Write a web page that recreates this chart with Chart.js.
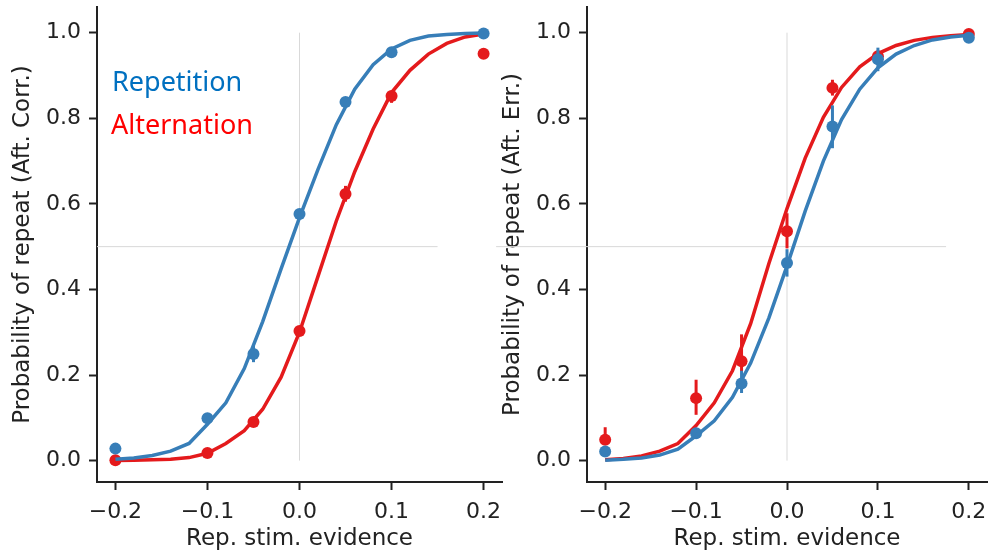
<!DOCTYPE html>
<html>
<head>
<meta charset="utf-8">
<title>Probability of repeat</title>
<script src="https://cdn.jsdelivr.net/npm/chart.js@4.4.1/dist/chart.umd.min.js"></script>
<style>
  body { margin: 0; background: #fff; }
  #wrap { position: relative; width: 993px; height: 555px; overflow: hidden; }
  canvas { position: absolute; top: 0; }
</style>
</head>
<body>
<div id="wrap">
  <canvas id="panelCorr" width="508" height="555" style="left:0"></canvas>
  <canvas id="panelErr" width="503" height="555" style="left:490px"></canvas>
</div>
<script>
// stimulus evidence levels and tick values
const evidence = [-0.2, -0.1, -0.05, 0, 0.05, 0.1, 0.2];
const fitX = [-0.2, -0.18, -0.16, -0.14, -0.12, -0.1, -0.08, -0.06, -0.04, -0.02, 0,
              0.02, 0.04, 0.06, 0.08, 0.1, 0.12, 0.14, 0.16, 0.18, 0.2];
const xTicks = [-0.2, -0.1, 0, 0.1, 0.2];
const yTicks = [0, 0.2, 0.4, 0.6, 0.8, 1.0];
const seriesNames = ["Repetition", "Alternation"];

// after correct trials
const corrRepMean = [0.028, 0.099, 0.249, 0.576, 0.838, 0.954, 0.998];
const corrRepLow  = [0.024, 0.094, 0.230, 0.568, 0.831, 0.946, 0.996];
const corrRepHigh = [0.032, 0.104, 0.268, 0.584, 0.845, 0.962, 1.000];
const corrAltMean = [0.001, 0.018, 0.090, 0.303, 0.623, 0.852, 0.951];
const corrAltLow  = [0.000, 0.014, 0.084, 0.295, 0.605, 0.836, 0.945];
const corrAltHigh = [0.003, 0.022, 0.096, 0.311, 0.642, 0.864, 0.957];
const corrRepFit = [0.003, 0.006, 0.012, 0.022, 0.040, 0.085, 0.135, 0.215, 0.325, 0.448, 0.568,
                    0.680, 0.785, 0.868, 0.925, 0.962, 0.982, 0.992, 0.996, 0.998, 0.999];
const corrAltFit = [0.000, 0.001, 0.002, 0.003, 0.007, 0.017, 0.040, 0.070, 0.120, 0.195, 0.300,
                    0.430, 0.560, 0.675, 0.775, 0.860, 0.912, 0.950, 0.975, 0.990, 0.997];

// after error trials
const errRepMean = [0.021, 0.064, 0.180, 0.462, 0.781, 0.938, 0.988];
const errRepLow  = [0.016, 0.056, 0.158, 0.430, 0.730, 0.910, 0.985];
const errRepHigh = [0.026, 0.072, 0.210, 0.494, 0.830, 0.965, 0.991];
const errAltMean = [0.049, 0.146, 0.232, 0.536, 0.871, 0.945, 0.997];
const errAltLow  = [0.037, 0.107, 0.209, 0.496, 0.853, 0.932, 0.995];
const errAltHigh = [0.078, 0.189, 0.295, 0.578, 0.890, 0.958, 0.999];
const errRepFit = [0.001, 0.003, 0.006, 0.013, 0.027, 0.058, 0.093, 0.148, 0.228, 0.333, 0.455,
                   0.583, 0.700, 0.797, 0.868, 0.918, 0.950, 0.970, 0.983, 0.990, 0.994];
const errAltFit = [0.002, 0.005, 0.011, 0.022, 0.040, 0.082, 0.135, 0.210, 0.320, 0.460, 0.589,
                   0.707, 0.802, 0.872, 0.920, 0.951, 0.970, 0.982, 0.989, 0.993, 0.996];

// guide lines (chance level and zero evidence)
const chanceY = 0.5;
const corrChanceSpan = [-0.22, 0.15];
const errChanceSpan = [-0.32, 0.175];
const zeroSpan = [0, 1];

const BLUE = "#377eb8", RED = "#e41a1c", GUIDE = "#d9d9d9", INK = "#222";
const FONT = "'DejaVu Sans', sans-serif";

const pts = (xs, ys) => xs.map((x, i) => ({ x, y: ys[i] }));

// vertical error bars drawn under each marker set
const errorBars = {
  id: "errorBars",
  beforeDatasetDraw(chart, args) {
    const ds = chart.data.datasets[args.index];
    if (!ds.errLow) return;
    const { ctx, scales: { x, y } } = chart;
    ctx.save();
    ctx.strokeStyle = ds.backgroundColor;
    ctx.lineWidth = 3;
    ds.data.forEach((p, i) => {
      const px = x.getPixelForValue(p.x);
      ctx.beginPath();
      ctx.moveTo(px, y.getPixelForValue(ds.errLow[i]));
      ctx.lineTo(px, y.getPixelForValue(ds.errHigh[i]));
      ctx.stroke();
    });
    ctx.restore();
  }
};

// coloured series names in the top-left of the first panel
const seriesText = {
  id: "seriesText",
  afterDraw(chart, args, opts) {
    if (!opts.show) return;
    const ctx = chart.ctx;
    ctx.save();
    ctx.font = "27px 'Noto Sans', sans-serif";
    ctx.textBaseline = "alphabetic";
    ctx.fillStyle = "#0070c0";
    ctx.fillText(seriesNames[0], 112, 91);
    ctx.fillStyle = "#ff0000";
    ctx.fillText(seriesNames[1], 111, 134);
    ctx.restore();
  }
};

function makePanel(id, yTitle, rep, alt, chanceSpan, rightPad, showNames) {
  const datasets = [
    { label: seriesNames[0] + " fit", data: pts(fitX, rep.fit), showLine: true, borderColor: BLUE,
      borderWidth: 3.5, pointRadius: 0, order: 1 },
    { label: seriesNames[0], data: pts(evidence, rep.mean), errLow: rep.low, errHigh: rep.high,
      backgroundColor: BLUE, borderWidth: 0, pointRadius: 6, order: 2 },
    { label: seriesNames[1] + " fit", data: pts(fitX, alt.fit), showLine: true, borderColor: RED,
      borderWidth: 3.5, pointRadius: 0, order: 3 },
    { label: seriesNames[1], data: pts(evidence, alt.mean), errLow: alt.low, errHigh: alt.high,
      backgroundColor: RED, borderWidth: 0, pointRadius: 6, order: 4 },
    { data: [{ x: chanceSpan[0], y: chanceY }, { x: chanceSpan[1], y: chanceY }], showLine: true,
      borderColor: GUIDE, borderWidth: 1, pointRadius: 0, clip: false, order: 10 },
    { data: [{ x: 0, y: zeroSpan[0] }, { x: 0, y: zeroSpan[1] }], showLine: true,
      borderColor: GUIDE, borderWidth: 1, pointRadius: 0, order: 10 }
  ];

  const axisGrid = { display: true, drawOnChartArea: false, drawTicks: true, tickLength: 8,
                     tickColor: INK, tickWidth: 2 };

  return new Chart(document.getElementById(id), {
    type: "scatter",
    data: { datasets },
    plugins: [errorBars, seriesText],
    options: {
      responsive: false,
      animation: false,
      devicePixelRatio: 1,
      layout: { padding: { top: 7, right: rightPad, left: 0, bottom: 0 } },
      plugins: { legend: { display: false }, tooltip: { enabled: false }, seriesText: { show: showNames } },
      scales: {
        x: {
          type: "linear", min: -0.22, max: 0.22,
          border: { color: INK, width: 2 },
          grid: axisGrid,
          afterBuildTicks: s => { s.ticks = xTicks.map(v => ({ value: v })); },
          afterFit: s => { s.height = 73; s.paddingLeft = 0; s.paddingRight = 0; },
          ticks: { color: INK, padding: 9, font: { family: FONT, size: 22 },
                   callback: v => v.toFixed(1).replace("-", "\u2212") },
          title: { display: true, text: "Rep. stim. evidence", color: INK,
                   font: { family: FONT, size: 23 }, padding: { top: 0, bottom: 2 } }
        },
        y: {
          type: "linear", min: -0.05, max: 1.06,
          border: { color: INK, width: 2 },
          grid: axisGrid,
          afterBuildTicks: s => { s.ticks = yTicks.map(v => ({ value: v })); },
          afterFit: s => { s.width = 97; s.paddingTop = 0; s.paddingBottom = 0; },
          ticks: { color: INK, padding: 8, font: { family: FONT, size: 22 },
                   callback: v => v.toFixed(1) },
          title: { display: true, text: yTitle, color: INK,
                   font: { family: FONT, size: 23 }, padding: { top: 9, bottom: 0 } }
        }
      }
    }
  });
}

makePanel("panelCorr", "Probability of repeat (Aft. Corr.)",
  { mean: corrRepMean, low: corrRepLow, high: corrRepHigh, fit: corrRepFit },
  { mean: corrAltMean, low: corrAltLow, high: corrAltHigh, fit: corrAltFit },
  corrChanceSpan, 3, true);

makePanel("panelErr", "Probability of repeat (Aft. Err.)",
  { mean: errRepMean, low: errRepLow, high: errRepHigh, fit: errRepFit },
  { mean: errAltMean, low: errAltLow, high: errAltHigh, fit: errAltFit },
  errChanceSpan, 0, false);
</script>
</body>
</html>
